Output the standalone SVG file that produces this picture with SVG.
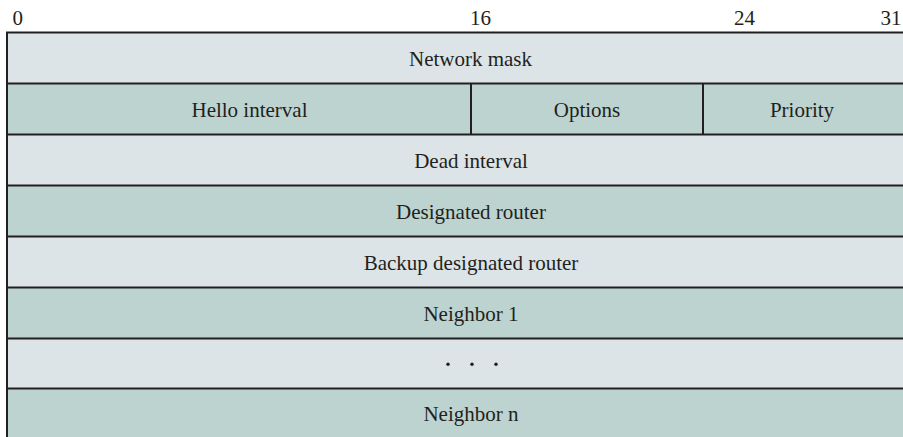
<svg xmlns="http://www.w3.org/2000/svg" width="903" height="437" viewBox="0 0 903 437">
<style>
.l{fill:#dce4e7}
.d{fill:#bcd3cf}
.ln{stroke:#231f20;stroke-width:2;fill:none}
text{font-family:"Liberation Serif","Times New Roman",serif;font-size:21px;fill:#231f20}
.c{text-anchor:middle}
</style>
<g id="scale">
<text x="12.5" y="25">0</text>
<text x="470" y="25">16</text>
<text x="734" y="25">24</text>
<text x="880.5" y="25">31</text>
</g>
<g id="row-network-mask"><rect class="l" x="7" y="32.5" width="896" height="51"/><text class="c" x="470.5" y="66">Network mask</text></g>
<g id="row-hello-interval"><rect class="d" x="7" y="83.5" width="464" height="51"/><text class="c" x="249.5" y="117">Hello interval</text></g>
<g id="row-options"><rect class="d" x="471" y="83.5" width="232" height="51"/><text class="c" x="587" y="117">Options</text></g>
<g id="row-priority"><rect class="d" x="703" y="83.5" width="200" height="51"/><text class="c" x="802" y="117">Priority</text></g>
<g id="row-dead-interval"><rect class="l" x="7" y="134.5" width="896" height="51"/><text class="c" x="471" y="168">Dead interval</text></g>
<g id="row-designated-router"><rect class="d" x="7" y="185.5" width="896" height="51"/><text class="c" x="471" y="219">Designated router</text></g>
<g id="row-backup"><rect class="l" x="7" y="236.5" width="896" height="51"/><text class="c" x="471" y="270">Backup designated router</text></g>
<g id="row-neighbor1"><rect class="d" x="7" y="287.5" width="896" height="51"/><text class="c" x="471" y="321">Neighbor 1</text></g>
<g id="row-dots"><rect class="l" x="7" y="338.5" width="896" height="50"/>
<circle cx="448" cy="364.3" r="1.7" fill="#231f20"/><circle cx="472" cy="364.3" r="1.7" fill="#231f20"/><circle cx="496" cy="364.3" r="1.7" fill="#231f20"/></g>
<g id="row-neighborn"><rect class="d" x="7" y="388.5" width="896" height="48.5"/><text class="c" x="471" y="421">Neighbor n</text></g>
<g id="lines">
<path class="ln" d="M7,437 V32.5 H903 M7,83.5 H903 M7,134.5 H903 M7,185.5 H903 M7,236.5 H903 M7,287.5 H903 M7,338.5 H903 M7,388.5 H903 M471,83.5 V134.5 M703,83.5 V134.5"/>
</g>
</svg>
